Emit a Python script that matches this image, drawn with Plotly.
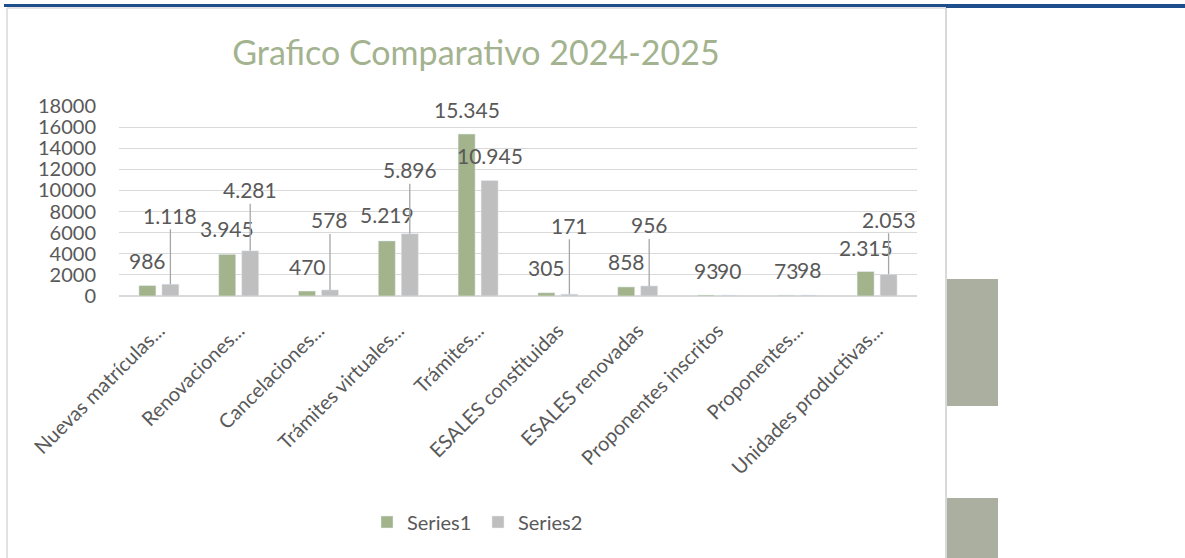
import plotly.graph_objects as go

# ---------------- data ----------------
categories = ["Nuevas matrículas...", "Renovaciones...", "Cancelaciones...", "Trámites virtuales...",
              "Trámites...", "ESALES constituidas", "ESALES renovadas", "Proponentes inscritos",
              "Proponentes...", "Unidades productivas..."]
series1 = [986, 3945, 470, 5219, 15345, 305, 858, 93, 73, 2315]
series2 = [1118, 4281, 578, 5896, 10945, 171, 956, 90, 98, 2053]
series_names = ["Series1", "Series2"]
y_ticks = [0, 2000, 4000, 6000, 8000, 10000, 12000, 14000, 16000, 18000]

# label offsets above bar top (pixels) and leader-line flags (style)
s1_label_offset = [25, 26, 25, 26, 25, 25, 25, 25, 25, 24]
s2_label_offset = [69, 61, 70, 64, 25, 69, 61, 25, 25, 55]
s2_leader = [True, True, True, True, False, True, True, False, False, True]

# ---------------- style ----------------
W, H = 1185, 558
L, R, T, B = 119, 917, 106, 296   # plot area in pixels
FONT = "Lato"
TXT = "#595959"
GREEN = "#A3B38C"
GREY = "#BFBFBF"
GRID = "#D9D9D9"
BAR_SHIFT = 0.144

def fmt(v):
    return f"{v:,}".replace(",", ".")

def px(xp):
    return (xp - L) / (R - L)

def py(yp):
    return (B - yp) / (B - T)

xs = list(range(len(categories)))

fig = go.Figure()
fig.add_trace(go.Bar(x=xs, y=series1, name=series_names[0], marker_color=GREEN))
fig.add_trace(go.Bar(x=xs, y=series2, name=series_names[1], marker_color=GREY))

ann = []
for i, v in enumerate(series1):
    ann.append(dict(x=i - BAR_SHIFT, y=v, xref="x", yref="y", text=fmt(v), showarrow=False,
                    yanchor="middle", yshift=s1_label_offset[i],
                    font=dict(family=FONT, size=21, color=TXT)))
for i, v in enumerate(series2):
    if s2_leader[i]:
        ann.append(dict(x=i + BAR_SHIFT, y=v, xref="x", yref="y", text=fmt(v), showarrow=True,
                        ax=0, ay=-s2_label_offset[i], arrowhead=0, arrowwidth=1.3,
                        arrowcolor="#A6A6A6", standoff=0,
                        font=dict(family=FONT, size=21, color=TXT)))
    else:
        ann.append(dict(x=i + BAR_SHIFT, y=v, xref="x", yref="y", text=fmt(v), showarrow=False,
                        yanchor="middle", yshift=s2_label_offset[i],
                        font=dict(family=FONT, size=21, color=TXT)))

shapes = [
    # chart frame
    dict(type="line", xref="paper", yref="paper", x0=px(7), x1=px(7), y0=py(8), y1=py(560),
         line=dict(color=GRID, width=1.5)),
    dict(type="line", xref="paper", yref="paper", x0=px(7), x1=px(946), y0=py(8), y1=py(8),
         line=dict(color=GRID, width=1.5)),
    dict(type="line", xref="paper", yref="paper", x0=px(946), x1=px(946), y0=py(8), y1=py(560),
         line=dict(color=GRID, width=2)),
    # top blue rule
    dict(type="line", xref="paper", yref="paper", x0=px(4), x1=px(946), y0=py(5.5), y1=py(5.5),
         line=dict(color="#1F4E8C", width=3)),
    dict(type="line", xref="paper", yref="paper", x0=px(946), x1=px(1186), y0=py(6), y1=py(6),
         line=dict(color="#1F4E8C", width=4)),
    # side blocks
    dict(type="rect", xref="paper", yref="paper", x0=px(947), x1=px(998), y0=py(279), y1=py(406),
         fillcolor="#ABAFA0", line=dict(width=0)),
    dict(type="rect", xref="paper", yref="paper", x0=px(947), x1=px(998), y0=py(498), y1=py(560),
         fillcolor="#ABAFA0", line=dict(width=0)),
]

fig.update_layout(
    width=W, height=H,
    margin=dict(l=L, r=W - R, t=T, b=H - B, pad=0),
    paper_bgcolor="white", plot_bgcolor="white",
    barmode="group", bargap=0.424, bargroupgap=0.26,
    title=dict(text="Grafico Comparativo 2024-2025", x=476 / W, xanchor="center",
               y=1 - 53 / H, yanchor="middle", xref="container", yref="container",
               font=dict(family=FONT, size=34, color="#A3B38F")),
    font=dict(family=FONT, color=TXT),
    xaxis=dict(range=[-0.5, len(categories) - 0.5], tickmode="array", tickvals=xs,
               ticktext=categories, tickangle=-45, showgrid=False, zeroline=False,
               showline=False, ticks="", tickfont=dict(family=FONT, size=20, color=TXT),
               ticklabelstandoff=18, fixedrange=True),
    yaxis=dict(range=[0, 18000], tickmode="array", tickvals=y_ticks, tickformat="d",
               showgrid=True, gridcolor=GRID, gridwidth=1.3, zeroline=True,
               zerolinecolor=GRID, zerolinewidth=1.5, showline=False, ticks="",
               tickfont=dict(family=FONT, size=20, color=TXT), ticklabelstandoff=22),
    legend=dict(orientation="h", xref="container", yref="container", x=367 / W, xanchor="left",
                y=1 - 522 / H, yanchor="middle", font=dict(family=FONT, size=20, color=TXT),
                itemwidth=30, entrywidth=66, entrywidthmode="pixels",
                bgcolor="rgba(0,0,0,0)"),
    annotations=ann,
    shapes=shapes,
)

fig.write_html("out.html", config={"displayModeBar": False},
               post_script="document.body.style.margin='0';")
